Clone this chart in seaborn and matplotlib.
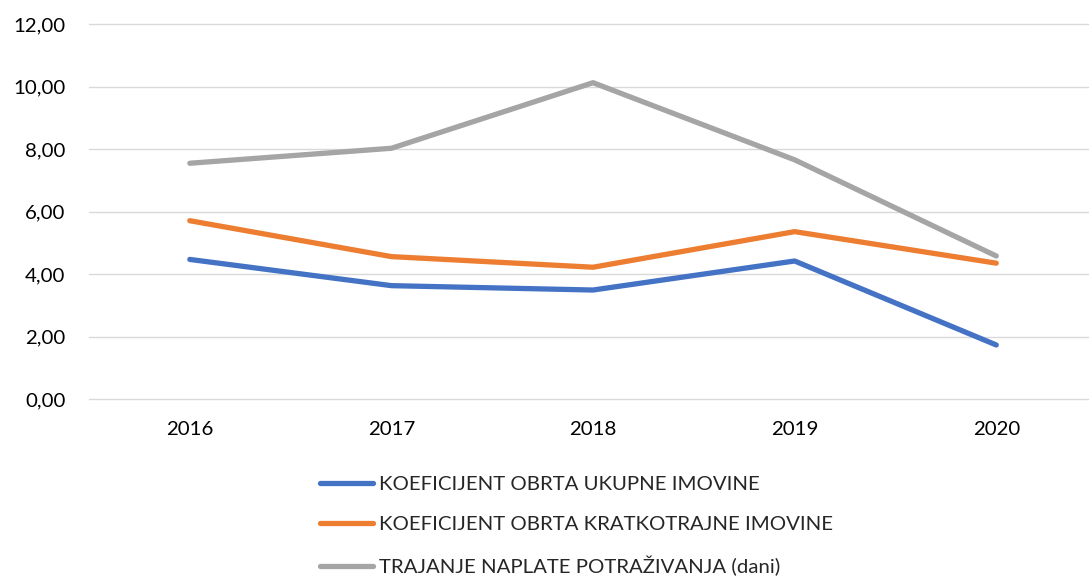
import matplotlib
matplotlib.use("Agg")
import matplotlib.pyplot as plt
import pandas as pd
import seaborn as sns

# ── data ──────────────────────────────────────────────────────────────────────

years = ["2016", "2017", "2018", "2019", "2020"]

ukupne_imovine      = [4.47, 3.63, 3.49, 4.42, 1.73]
kratkotrajne        = [5.71, 4.56, 4.22, 5.36, 4.35]
naplata_potrazivanja = [7.55, 8.03, 10.13, 7.66, 4.58]

series_names = [
    "KOEFICIJENT OBRTA UKUPNE IMOVINE",
    "KOEFICIJENT OBRTA KRATKOTRAJNE IMOVINE",
    "TRAJANJE NAPLATE POTRAŽIVANJA (dani)",
]
palette = ["#4472C4", "#ED7D31", "#A5A5A5"]

y_ticks = [0, 2, 4, 6, 8, 10, 12]

# ── long table for seaborn ────────────────────────────────────────────────────

frames = []
for name, vals in zip(series_names,
                      [ukupne_imovine, kratkotrajne, naplata_potrazivanja]):
    frames.append(pd.DataFrame({"year": years, "value": vals, "series": name}))
df = pd.concat(frames, ignore_index=True)

# ── plot ──────────────────────────────────────────────────────────────────────

sns.set_style("white")
plt.rcParams["font.family"] = ["Lato", "DejaVu Sans"]

fig = plt.figure(figsize=(10.89, 5.81), dpi=100)
ax = fig.add_axes([89 / 1089, 1 - 399 / 581, 1 - 89 / 1089, (399 - 24.3) / 581])

sns.lineplot(data=df, x="year", y="value", hue="series", palette=palette,
             hue_order=series_names, linewidth=3.8, ax=ax, legend=False,
             solid_capstyle="round")

ax.set_xlim(-0.5, 4.46)
ax.set_ylim(0, 12)
ax.set_yticks(y_ticks)
ax.set_yticklabels([f"{v:.2f}".replace(".", ",") for v in y_ticks])
ax.yaxis.grid(True, color="#D9D9D9", linewidth=1.0)
ax.set_axisbelow(True)
for line in ax.get_ygridlines():
    line.set_clip_on(False)
for s in ax.spines.values():
    s.set_visible(False)
ax.tick_params(axis="both", length=0, labelsize=14.7, colors="#000000")
ax.tick_params(axis="y", pad=17)
ax.tick_params(axis="x", pad=16)
ax.set_xlabel("")
ax.set_ylabel("")

handles = [plt.Line2D([], [], color=c, linewidth=3.8, solid_capstyle="round")
           for c in palette]
fig.legend(handles, series_names, loc="upper left",
           bbox_to_anchor=(312 / 1089, 1 - 468 / 581), frameon=False,
           fontsize=14.7, handlelength=2.6, handletextpad=0.3,
           labelspacing=1.1, borderaxespad=0)

fig.savefig("out.png", dpi=100)
